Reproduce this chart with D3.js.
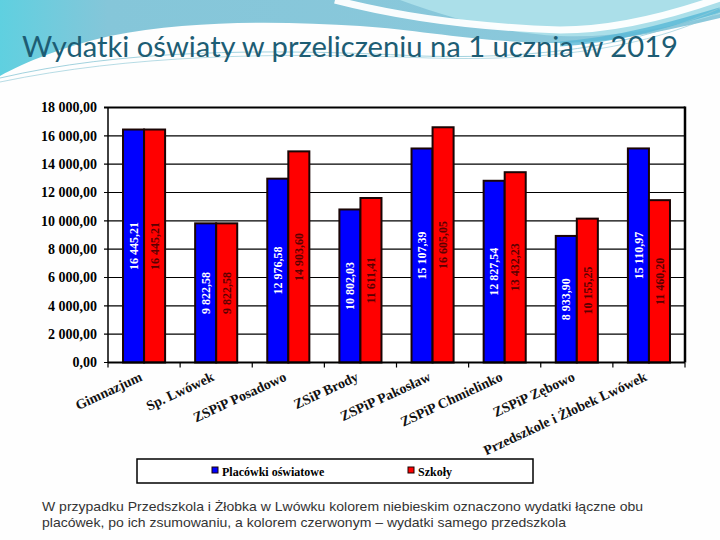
<!DOCTYPE html>
<html><head><meta charset="utf-8">
<script src="https://cdn.jsdelivr.net/npm/d3@7"></script>
<style>html,body{margin:0;padding:0;background:#fff;}svg{display:block;}
.serif{font-family:"Liberation Serif","Times New Roman","DejaVu Serif",serif;font-weight:bold;}
.sans{font-family:"Liberation Sans",Arial,sans-serif;}
</style>
</head><body>
<svg id="c" width="720" height="540"></svg>
<script>
const categories = ["Gimnazjum","Sp. Lwówek","ZSPiP Posadowo","ZSiP Brody","ZSPiP Pakosław","ZSPiP Chmielinko","ZSPiP Zębowo","Przedszkole i Żłobek Lwówek"];
const seriesNames = ["Placówki oświatowe","Szkoły"];
const placowki = [16445.21, 9822.58, 12976.58, 10802.03, 15107.39, 12827.54, 8933.90, 15110.97];
const szkoly = [16445.21, 9822.58, 14903.60, 11611.41, 16605.05, 13432.23, 10155.25, 11460.20];
const yTicks = [0,2000,4000,6000,8000,10000,12000,14000,16000,18000];
const seriesColors = ["#0000ff","#ff0000"];
const labelColors = ["#ffffff","#5a0000"];
const title = "Wydatki oświaty w przeliczeniu na 1 ucznia w 2019";
const note1 = "W przypadku Przedszkola i Żłobka w Lwówku kolorem niebieskim oznaczono wydatki łączne obu";
const note2 = "placówek, po ich zsumowaniu, a kolorem czerwonym – wydatki samego przedszkola";

const svg = d3.select("#c");
const loc = d3.formatLocale({decimal:",", thousands:" ", grouping:[3], currency:["",""]});
const fmt = loc.format(",.2f");

// background decoration
const defs = svg.append("defs");
const g1 = defs.append("linearGradient").attr("id","bgL").attr("x1","0").attr("x2","1").attr("y1","0").attr("y2","0");
g1.append("stop").attr("offset","0").attr("stop-color","#5fd0e0");
g1.append("stop").attr("offset","0.15").attr("stop-color","#85c6d9");
g1.append("stop").attr("offset","1").attr("stop-color","#8cc9dc");
svg.append("rect").attr("width",720).attr("height",540).attr("fill","#fefefe");
svg.append("path").attr("fill","url(#bgL)")
  .attr("d","M0,0 H720 V18 C660,32 610,44 545,43 C470,41 420,30 360,26 C280,21 190,20 110,36 C65,46 25,62 0,76 Z");
svg.append("path").attr("fill","#abdfe9")
  .attr("d","M400,0 H720 V14 C660,30 610,38 560,36 C500,33 450,18 400,0 Z");
svg.append("path").attr("fill","none").attr("stroke","#ffffff").attr("stroke-width",7).attr("opacity",0.95)
  .attr("d","M335,0 C420,22 500,28 560,30 C620,30 680,12 720,-2");
svg.append("path").attr("fill","none").attr("stroke","#58b8d6").attr("stroke-width",5).attr("opacity",0.8)
  .attr("d","M560,44 C620,40 680,22 720,10");
[["M0,78 C120,50 260,48 420,56 C560,60 650,40 720,8",0.9],["M0,82 C130,55 270,52 430,58 C570,62 660,42 720,12",0.7]].forEach(([d,o])=>{
  svg.append("path").attr("fill","none").attr("stroke","#8cc7d6").attr("stroke-width",0.9).attr("opacity",o).attr("d",d);
});

svg.append("text").attr("x",22).attr("y",57).style("font-family","Lato, 'Open Sans', sans-serif")
  .attr("font-size",29).attr("fill","#1d5d74").attr("textLength",656).attr("lengthAdjust","spacingAndGlyphs").text(title);

// chart
const L=108, R=685, T=107.5, B=362.5;
const x0 = d3.scaleBand().domain(categories).range([L,R]).paddingInner(0).paddingOuter(0);
const x1 = d3.scaleBand().domain(seriesNames).range([0,x0.bandwidth()]).paddingInner(0).paddingOuter(0.714);
const y = d3.scaleLinear().domain([0,18000]).range([B,T]);

svg.append("rect").attr("x",L).attr("y",T).attr("width",R-L).attr("height",B-T).attr("fill","#fff");
svg.append("g").selectAll("line").data(yTicks).join("line")
  .attr("x1",L-4).attr("x2",R).attr("y1",d=>y(d)).attr("y2",d=>y(d))
  .attr("stroke","#000").attr("stroke-width",d=>d===18000?2:1.2);
svg.append("g").selectAll("text").data(yTicks).join("text")
  .attr("class","serif")
  .attr("x",97).attr("y",d=>y(d)).attr("dy","0.35em").attr("text-anchor","end")
  .style("font-size","14px").attr("fill","#000").text(d=>fmt(d));
svg.append("line").attr("x1",L).attr("x2",L).attr("y1",T).attr("y2",B).attr("stroke","#000").attr("stroke-width",1.5);
svg.append("line").attr("x1",R).attr("x2",R).attr("y1",T-1).attr("y2",B).attr("stroke","#000").attr("stroke-width",2.5);

const data = categories.map((c,i)=>({cat:c, vals:[placowki[i], szkoly[i]]}));
const groups = svg.append("g").selectAll("g").data(data).join("g").attr("transform",d=>`translate(${x0(d.cat)},0)`);
groups.selectAll("rect").data(d=>d.vals.map((v,j)=>({v,j}))).join("rect")
  .attr("x",d=>x1(seriesNames[d.j])).attr("width",x1.bandwidth())
  .attr("y",d=>y(d.v)).attr("height",d=>B-y(d.v))
  .attr("fill",d=>seriesColors[d.j]).attr("stroke","#1a0505").attr("stroke-width",2);
groups.selectAll("text").data(d=>d.vals.map((v,j)=>({v,j}))).join("text")
  .attr("class","serif")
  .attr("transform",d=>`translate(${x1(seriesNames[d.j])+x1.bandwidth()/2},${(y(d.v)+B)/2}) rotate(-90)`)
  .attr("text-anchor","middle").attr("dy","0.35em")
  .style("font-size","12px").attr("fill",d=>labelColors[d.j]).text(d=>fmt(d.v));

// x axis
svg.append("line").attr("x1",L).attr("x2",R).attr("y1",B).attr("y2",B).attr("stroke","#000").attr("stroke-width",2);
const bounds = categories.map(c=>x0(c)).concat([R]);
svg.append("g").selectAll("line").data(bounds).join("line")
  .attr("x1",d=>d).attr("x2",d=>d).attr("y1",B).attr("y2",B+5).attr("stroke","#000").attr("stroke-width",1.2);
svg.append("g").selectAll("text").data(categories).join("text")
  .attr("class","serif")
  .attr("transform",d=>`translate(${x0(d)+x0.bandwidth()/2-1},380) rotate(-25)`)
  .attr("text-anchor","end").style("font-size","14px")
  .attr("fill","#111").text(d=>d);

// legend
const lg = svg.append("g");
lg.append("rect").attr("x",137).attr("y",459).attr("width",396).attr("height",24).attr("fill","#fff").attr("stroke","#000").attr("stroke-width",1.5);
const legX = [212, 408];
seriesNames.forEach((s,j)=>{
  lg.append("rect").attr("x",legX[j]).attr("y",467).attr("width",6).attr("height",6)
    .attr("fill",seriesColors[j]).attr("stroke","#1a0505").attr("stroke-width",1);
  lg.append("text").attr("class","serif").attr("x",legX[j]+10).attr("y",475.5)
    .style("font-size","12px").attr("fill","#000").text(s);
});

// note
svg.append("text").attr("class","sans").attr("x",42).attr("y",511).style("font-size","13.5px")
  .attr("fill","#333").attr("textLength",601).attr("lengthAdjust","spacingAndGlyphs").text(note1);
svg.append("text").attr("class","sans").attr("x",42).attr("y",527).style("font-size","13.5px")
  .attr("fill","#333").attr("textLength",524).attr("lengthAdjust","spacingAndGlyphs").text(note2);
</script>
</body></html>
